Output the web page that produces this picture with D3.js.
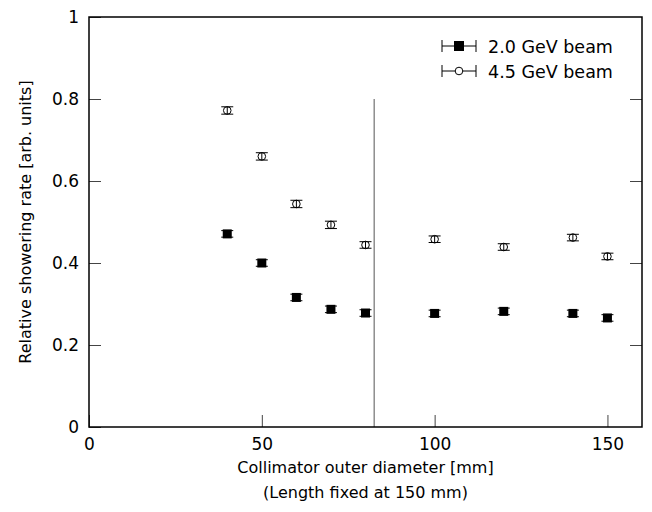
<!DOCTYPE html>
<html>
<head>
<meta charset="utf-8">
<script src="https://cdn.jsdelivr.net/npm/d3@7"></script>
<style>
  body { margin: 0; background: #fff; }
  text { font-family: "DejaVu Sans", sans-serif; fill: #000; }
</style>
</head>
<body>
<div id="chart"></div>
<script>
// collimator outer diameter [mm]
const diameters = [40, 50, 60, 70, 80, 100, 120, 140, 150];
// relative showering rate
const rate20 = [0.471, 0.400, 0.316, 0.287, 0.278, 0.277, 0.282, 0.277, 0.266];
const rate45 = [0.772, 0.660, 0.544, 0.493, 0.444, 0.458, 0.439, 0.462, 0.416];
const err20 = [0.008, 0.008, 0.008, 0.008, 0.008, 0.008, 0.008, 0.008, 0.008];
const err45 = [0.009, 0.009, 0.009, 0.009, 0.008, 0.008, 0.008, 0.008, 0.008];
const xTicks = [0, 50, 100, 150];
const yTicks = [0, 0.2, 0.4, 0.6, 0.8, 1];
const markerLine = 82.5;
const seriesNames = ["2.0 GeV beam", "4.5 GeV beam"];

const width = 652, height = 512;
const margin = {top: 17, right: 10, bottom: 85, left: 89};

const svg = d3.select("#chart").append("svg")
    .attr("width", width)
    .attr("height", height);

const x = d3.scaleLinear().domain([0, 160]).range([margin.left, width - margin.right]);
const y = d3.scaleLinear().domain([0, 1]).range([height - margin.bottom, margin.top]);

const tickLen = 12;

// inward ticks, left + right
svg.append("g")
    .attr("transform", `translate(${margin.left},0)`)
    .call(d3.axisLeft(y).tickValues(yTicks).tickSize(-tickLen).tickPadding(10)
        .tickFormat(d => d === 0 || d === 1 ? d3.format("d")(d) : d3.format(".1f")(d)))
    .call(g => g.select(".domain").remove())
    .call(g => g.selectAll(".tick line").attr("stroke", "#444"))
    .call(g => g.selectAll("text").attr("font-size", 17));

svg.append("g")
    .attr("transform", `translate(${width - margin.right},0)`)
    .call(d3.axisRight(y).tickValues(yTicks.slice(1, -1)).tickSize(-tickLen).tickFormat(""))
    .call(g => g.select(".domain").remove())
    .call(g => g.selectAll(".tick line").attr("stroke", "#444"));

svg.append("g")
    .attr("transform", `translate(0,${height - margin.bottom})`)
    .call(d3.axisBottom(x).tickValues(xTicks).tickSize(-tickLen).tickPadding(9))
    .call(g => g.select(".domain").remove())
    .call(g => g.selectAll(".tick line").attr("stroke", "#444"))
    .call(g => g.selectAll("text").attr("font-size", 17).attr("dy", "0.85em"));

// vertical marker line
svg.append("line")
    .attr("x1", x(markerLine)).attr("x2", x(markerLine))
    .attr("y1", y(0.8)).attr("y2", y(0))
    .attr("stroke", "#555").attr("stroke-width", 1);

// frame
svg.append("rect")
    .attr("x", margin.left).attr("y", margin.top)
    .attr("width", width - margin.left - margin.right)
    .attr("height", height - margin.top - margin.bottom)
    .attr("fill", "none").attr("stroke", "#000").attr("stroke-width", 1.5);

function errorBars(vals, errs) {
    const g = svg.append("g").attr("stroke", "#000").attr("stroke-width", 1);
    diameters.forEach((d, i) => {
        const cx = x(d), lo = y(vals[i] - errs[i]), hi = y(vals[i] + errs[i]);
        g.append("line").attr("x1", cx).attr("x2", cx).attr("y1", lo).attr("y2", hi);
        g.append("line").attr("x1", cx - 6).attr("x2", cx + 6).attr("y1", lo).attr("y2", lo);
        g.append("line").attr("x1", cx - 6).attr("x2", cx + 6).attr("y1", hi).attr("y2", hi);
    });
}

errorBars(rate20, err20);
errorBars(rate45, err45);

svg.append("g").selectAll("rect")
    .data(diameters)
    .join("rect")
    .attr("x", (d) => x(d) - 4.5)
    .attr("y", (d, i) => y(rate20[i]) - 4.5)
    .attr("width", 9).attr("height", 9)
    .attr("fill", "#000");

svg.append("g").selectAll("circle")
    .data(diameters)
    .join("circle")
    .attr("cx", d => x(d))
    .attr("cy", (d, i) => y(rate45[i]))
    .attr("r", 3.8)
    .attr("fill", "none")
    .attr("stroke", "#000").attr("stroke-width", 1);

// legend
const leg = svg.append("g");
seriesNames.forEach((name, i) => {
    const ly = 46 + i * 25;
    const g = leg.append("g").attr("stroke", "#000").attr("stroke-width", 1);
    g.append("line").attr("x1", 442).attr("x2", 476).attr("y1", ly).attr("y2", ly);
    g.append("line").attr("x1", 442).attr("x2", 442).attr("y1", ly - 6).attr("y2", ly + 6);
    g.append("line").attr("x1", 476).attr("x2", 476).attr("y1", ly - 6).attr("y2", ly + 6);
    if (i === 0) {
        g.append("rect").attr("x", 459 - 4.5).attr("y", ly - 4.5).attr("width", 9).attr("height", 9)
            .attr("fill", "#000");
    } else {
        g.append("circle").attr("cx", 459).attr("cy", ly).attr("r", 3.8).attr("fill", "#fff");
    }
    leg.append("text")
        .attr("x", 488).attr("y", ly + 6.5)
        .attr("font-size", 17.5)
        .text(name);
});

// axis titles
svg.append("text")
    .attr("x", (margin.left + width - margin.right) / 2)
    .attr("y", 473)
    .attr("text-anchor", "middle")
    .attr("font-size", 16)
    .text("Collimator outer diameter [mm]");

svg.append("text")
    .attr("x", (margin.left + width - margin.right) / 2)
    .attr("y", 498)
    .attr("text-anchor", "middle")
    .attr("font-size", 16)
    .text("(Length fixed at 150 mm)");

svg.append("text")
    .attr("transform", `translate(31,${(margin.top + height - margin.bottom) / 2}) rotate(-90)`)
    .attr("text-anchor", "middle")
    .attr("font-size", 16)
    .text("Relative showering rate [arb. units]");
</script>
</body>
</html>
